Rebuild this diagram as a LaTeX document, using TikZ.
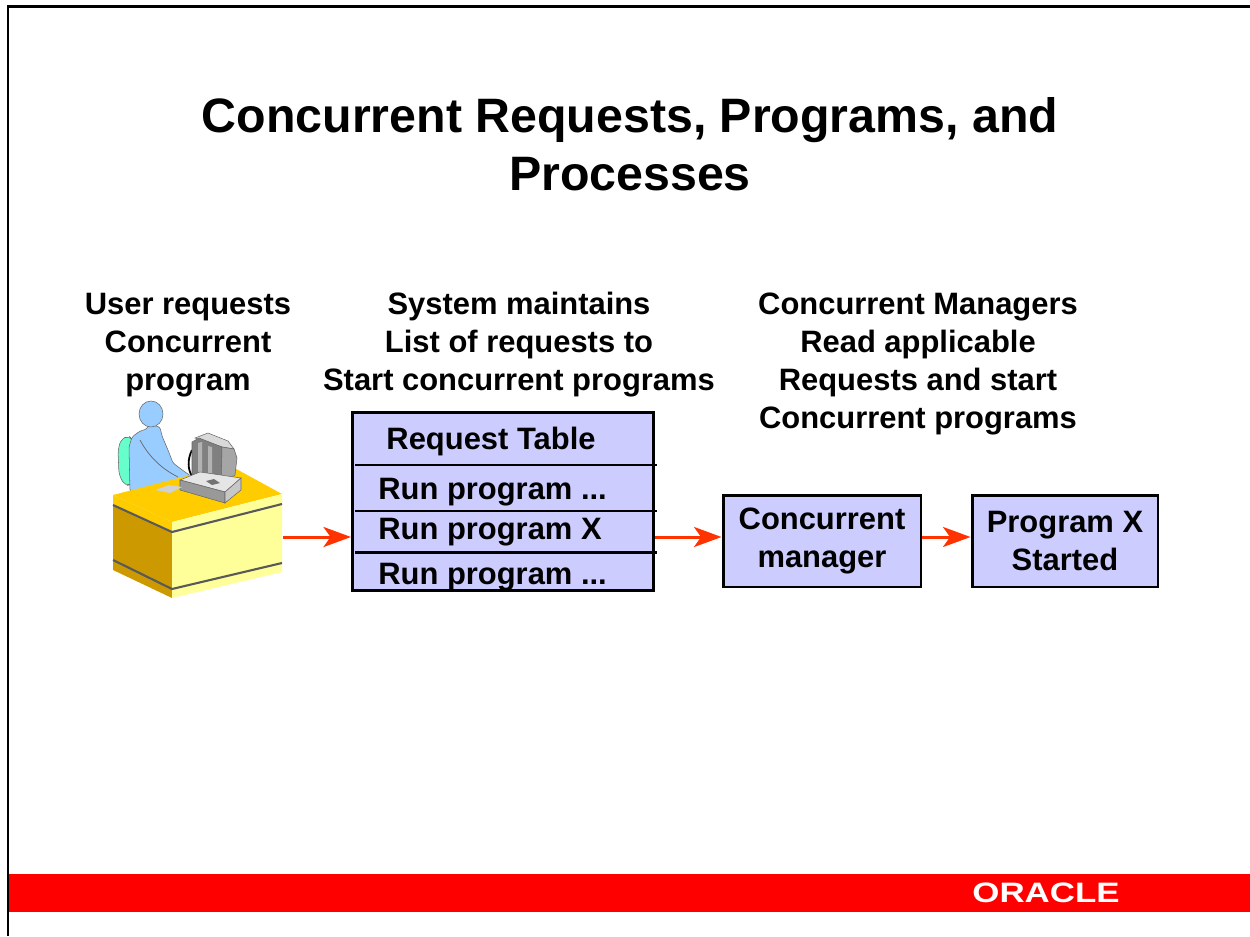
\documentclass[tikz,border=0pt]{standalone}
\usepackage{fontspec}
\setmainfont{Liberation Sans}
\newfontfamily\logofont[FakeStretch=1.24]{Liberation Sans}
\usetikzlibrary{arrows.meta}

\definecolor{boxblue}{HTML}{CCCCFF}
\definecolor{arrowred}{HTML}{FF3300}
\definecolor{bandred}{HTML}{FF0000}
\definecolor{desktop}{HTML}{FFCC00}
\definecolor{deskfront}{HTML}{FFFF99}
\definecolor{deskside}{HTML}{CC9900}
\definecolor{skyblue}{HTML}{99CCFF}
\definecolor{chairgreen}{HTML}{66FFCC}

\tikzset{
  title/.style    = {font=\bfseries\fontsize{27.5}{33}\selectfont, align=center, anchor=base},
  heading/.style  = {font=\bfseries\fontsize{17.6}{21.5}\selectfont, align=center, anchor=base},
  procbox/.style  = {draw, line width=1.7pt, fill=boxblue, align=center,
                     font=\bfseries\fontsize{17.6}{22}\selectfont},
  rowtext/.style  = {anchor=base west, inner sep=0pt,
                     font=\bfseries\fontsize{17.6}{22}\selectfont},
  flow/.style     = {draw=arrowred, line width=1.7pt,
                     -{Stealth[length=5.5mm, width=4mm, inset=1.4mm]}},
  outline/.style  = {draw=black!60, line width=0.3pt}
}

\begin{document}
\begin{tikzpicture}[x=0.02cm, y=-0.02cm]
  \useasboundingbox (0,0) rectangle (1250,936);

  % frame and footer band
  \draw[line width=1.7pt] (8,936) -- (8,6.5) -- (1250,6.5);
  \fill[bandred] (9,874) rectangle (1250,912);
  \node[text=white, font=\logofont\bfseries\fontsize{16}{16}\selectfont] (logo) at (1046,893) {ORACLE};

  % multi-line nodes sit on the baseline of their last line
  \node[title] (heading) at (630,190) {Concurrent Requests, Programs, and\\Processes};

  % column captions
  \node[heading] (user)  at (188,390) {User requests\\Concurrent\\program};
  \node[heading] (sys)   at (519,390) {System maintains\\List of requests to\\Start concurrent programs};
  \node[heading] (mgrs)  at (918,428) {Concurrent Managers\\Read applicable\\Requests and start\\Concurrent programs};

  % user at the desk
  \fill[chairgreen, outline, rounded corners=3pt]
    (118,450) -- (121,439) -- (129,436) -- (133,440) -- (133,484) -- (125,486) -- (119,475) -- cycle;
  \draw[black!70, line width=0.8pt] (131,470) -- (132,486);
  \fill[skyblue, outline, rounded corners=1.5pt]
    (130,492) -- (129,447) -- (132,437) -- (140,431) -- (147,429) -- (149,424) -- (160,427)
    -- (162,436) -- (168,450) -- (173,463) -- (185,472) -- (191,476) -- (190,482)
    -- (178,481) -- (167,483) -- (160,490) -- cycle;
  \fill[skyblue, outline] (151,414) ellipse [x radius=12, y radius=13];
  \draw[black!60, line width=0.4pt] (140,440) .. controls (148,455) and (160,468) .. (178,477);

  \fill[desktop] (113,495) -- (172,522) -- (282,494) -- (229,465) -- cycle;
  \fill[desktop] (113,495) -- (172,522) -- (172,531) -- (113,504) -- cycle;
  \fill[deskfront] (172,522) -- (282,494) -- (282,503) -- (172,531) -- cycle;
  \fill[deskside] (113,505) -- (172,532) -- (172,598) -- (113,570) -- cycle;
  \fill[deskfront] (172,532) -- (282,504) -- (282,572) -- (172,598) -- cycle;
  \draw[black!65, line width=1.2pt] (113,505) -- (172,532) -- (282,504);
  \draw[black!65, line width=1.2pt] (113,560) -- (172,589) -- (282,563);

  % monitor, cable and keyboard
  \draw[black, line width=1pt] (192,450) .. controls (187,460) and (188,470) .. (192,476);
  \fill[black!15, outline] (195,438) -- (208,433) -- (228,441) -- (234,449) -- (222,447) -- cycle;
  \fill[black!50, outline] (192,442) -- (199,438) -- (222,447) -- (221,485) -- (211,484) -- (192,475) -- cycle;
  \fill[black!30] (198,443) -- (202,442) -- (202,478) -- (198,476) -- cycle;
  \fill[black!30] (208,446) -- (212,447) -- (212,482) -- (208,480) -- cycle;
  \fill[black!35, outline] (222,447) -- (234,449) -- (237,458) -- (235,475) -- (221,485) -- cycle;
  \fill[black!10, outline] (180,480) -- (200,472) -- (241,478) -- (225,492) -- cycle;
  \fill[black!40, outline] (180,480) -- (225,492) -- (225,503) -- (180,490) -- cycle;
  \fill[black!22, outline] (225,492) -- (241,478) -- (241,490) -- (225,503) -- cycle;
  \fill[black!55] (206,481) -- (214,479) -- (220,483) -- (212,485) -- cycle;
  \fill[black!18] (155,490) -- (169,485) -- (182,487) -- (170,493) -- cycle;
  \coordinate (desk) at (283,537);

  % request table
  \node[procbox, anchor=north west, minimum width=6.02cm, minimum height=3.56cm] (table) at (351,411) {};
  \foreach \y in {465,511,552}
    \draw[line width=1.7pt] (355,\y) -- (657,\y);
  \node[rowtext, anchor=base] (head) at (491,449) {Request Table};
  \node[rowtext] (row1) at (378,499) {Run program ...};
  \node[rowtext] (rowX) at (378,539) {Run program X};
  \node[rowtext] (row3) at (378,584) {Run program ...};

  % manager and started program
  \node[procbox, minimum width=3.96cm, minimum height=1.84cm] (mgr)  at (822,541) {Concurrent\\manager};
  \node[procbox, minimum width=3.72cm, minimum height=1.84cm] (prog) at (1065,541) {Program X\\Started};

  \draw[flow] (desk) -- (desk -| table.west);
  \draw[flow] (desk -| table.east) -- (desk -| mgr.west);
  \draw[flow] (desk -| mgr.east) -- (desk -| prog.west);
\end{tikzpicture}
\end{document}
